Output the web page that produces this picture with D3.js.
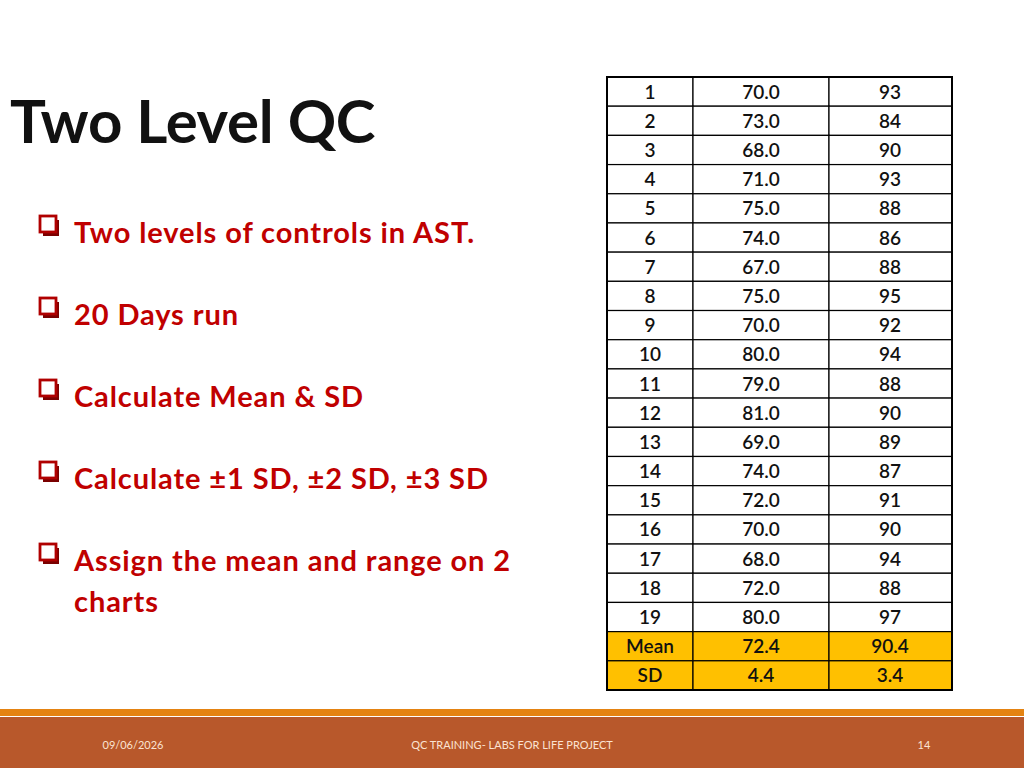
<!DOCTYPE html>
<html><head><meta charset="utf-8">
<script src="https://cdn.jsdelivr.net/npm/d3@7"></script>
<style>body{margin:0;background:#fff}svg{display:block;font-family:Lato,"Open Sans",sans-serif}</style>
</head><body><div id="container"></div>
<script>
/* DATA */
const days = ["1","2","3","4","5","6","7","8","9","10","11","12","13","14","15","16","17","18","19"];
const level1 = ["70.0","73.0","68.0","71.0","75.0","74.0","67.0","75.0","70.0","80.0","79.0","81.0","69.0","74.0","72.0","70.0","68.0","72.0","80.0"];
const level2 = ["93","84","90","93","88","86","88","95","92","94","88","90","89","87","91","90","94","88","97"];
const summaryLabels = ["Mean","SD"];
const summary1 = ["72.4","4.4"];
const summary2 = ["90.4","3.4"];
const bullets = [["Two levels of controls in AST."],["20 Days run"],["Calculate Mean & SD"],["Calculate \u00b11 SD, \u00b12 SD, \u00b13 SD"],["Assign the mean and range on 2","charts"]];

const width = 1024, height = 768;
const svg = d3.select("#container").append("svg").attr("width", width).attr("height", height);

// title
svg.append("text").attr("x", 10).attr("y", 143).attr("font-size", 60).attr("font-weight", "bold")
  .attr("fill", "#111").attr("letter-spacing", -0.3).text("Two Level QC");

// bullets
const by = d3.scalePoint().domain(d3.range(bullets.length)).range([233, 561]);
bullets.forEach((lines, i) => {
  const y = by(i);
  svg.append("rect").attr("x", 43).attr("y", y - 13).attr("width", 16).attr("height", 16).attr("fill", "#7a0000");
  svg.append("rect").attr("x", 40).attr("y", y - 17).attr("width", 16).attr("height", 16)
    .attr("fill", "#fff").attr("stroke", "#b00000").attr("stroke-width", 2.8);
  lines.forEach((l, j) => svg.append("text").attr("x", 74).attr("y", y + 10 + j * 41)
    .attr("font-size", 29).attr("font-weight", "bold").attr("letter-spacing", 0.9).attr("fill", "#c00000").text(l));
});

// table
const rows = days.map((d, i) => ({a: d, b: level1[i], c: level2[i], fill: "#fff"}))
  .concat(summaryLabels.map((d, i) => ({a: d, b: summary1[i], c: summary2[i], fill: "#ffc000"})));
const yScale = d3.scaleBand().domain(d3.range(rows.length)).range([77, 690]);
const cols = [607, 693, 829, 952];
const colMid = [650, 761, 890];
const g = svg.append("g");
rows.forEach((r, i) => {
  const y = yScale(i), h = yScale.bandwidth();
  [r.a, r.b, r.c].forEach((t, k) => {
    g.append("rect").attr("x", cols[k]).attr("y", y).attr("width", cols[k + 1] - cols[k]).attr("height", h)
      .attr("fill", r.fill).attr("stroke", "#000").attr("stroke-width", 1.2);
    g.append("text").attr("x", colMid[k]).attr("y", y + h / 2 + 7).attr("text-anchor", "middle")
      .attr("font-size", 19).attr("font-weight", 600).attr("fill", "#111").text(t);
  });
});
g.append("rect").attr("x", 607).attr("y", 77).attr("width", 345).attr("height", 613)
  .attr("fill", "none").attr("stroke", "#000").attr("stroke-width", 2);

// footer
svg.append("rect").attr("x", 0).attr("y", 709).attr("width", width).attr("height", 7).attr("fill", "#e48312");
svg.append("rect").attr("x", 0).attr("y", 717).attr("width", width).attr("height", 51).attr("fill", "#b8582b");
const ft = [[133, "09/06/2026"], [512, "QC TRAINING- LABS FOR LIFE PROJECT"], [924, "14"]];
ft.forEach(([x, t]) => svg.append("text").attr("x", x).attr("y", 749).attr("text-anchor", "middle")
  .attr("font-size", 11).attr("fill", "#fbe3d2").text(t));
</script></body></html>
